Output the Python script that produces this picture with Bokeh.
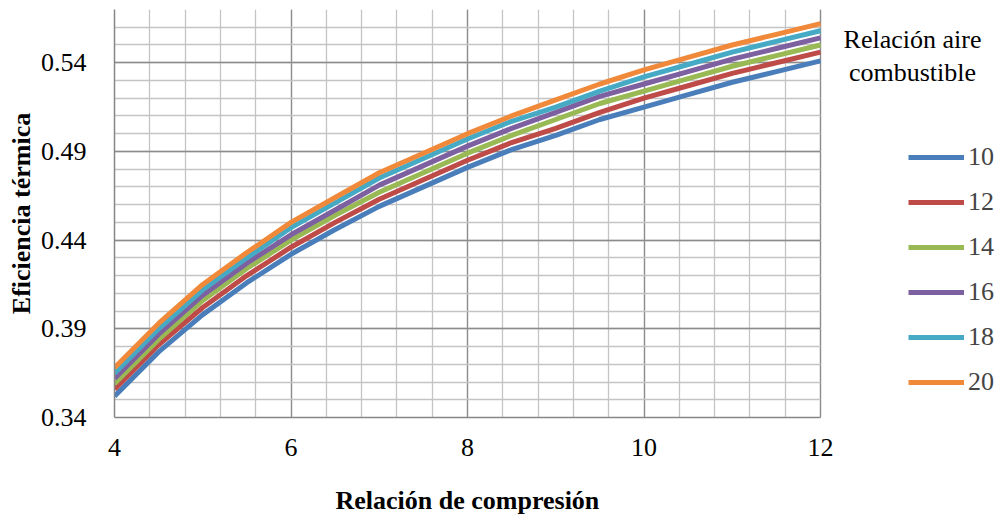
import numpy as np
from bokeh.plotting import figure
from bokeh.models import (Range1d, FixedTicker, NumeralTickFormatter, Legend, LegendItem, Label, Title)
from bokeh.embed import file_html
from bokeh.resources import INLINE

# Data
compression = [4, 4.5, 5, 5.5, 6, 6.5, 7, 7.5, 8, 8.5, 9, 9.5, 10, 10.5, 11, 11.5, 12]
afr_labels = ["10", "12", "14", "16", "18", "20"]
eff_10 = [0.352, 0.377, 0.398, 0.416, 0.432, 0.446, 0.459, 0.470, 0.481, 0.491, 0.499, 0.508, 0.515, 0.522, 0.529, 0.535, 0.541]
eff_12 = [0.356, 0.381, 0.402, 0.420, 0.436, 0.450, 0.463, 0.474, 0.485, 0.495, 0.503, 0.512, 0.520, 0.527, 0.534, 0.540, 0.546]
eff_14 = [0.359, 0.384, 0.406, 0.424, 0.440, 0.454, 0.467, 0.478, 0.489, 0.499, 0.508, 0.517, 0.524, 0.531, 0.538, 0.544, 0.550]
eff_16 = [0.362, 0.387, 0.409, 0.427, 0.443, 0.457, 0.471, 0.482, 0.493, 0.503, 0.512, 0.521, 0.528, 0.535, 0.542, 0.548, 0.554]
eff_18 = [0.365, 0.390, 0.412, 0.430, 0.447, 0.461, 0.475, 0.486, 0.497, 0.507, 0.515, 0.524, 0.532, 0.539, 0.546, 0.552, 0.558]
eff_20 = [0.368, 0.393, 0.415, 0.433, 0.450, 0.464, 0.478, 0.489, 0.500, 0.510, 0.519, 0.528, 0.536, 0.543, 0.550, 0.556, 0.562]
series = [eff_10, eff_12, eff_14, eff_16, eff_18, eff_20]
colors = ["#4A7EBB", "#BE4B48", "#98B954", "#7D60A0", "#46AAC5", "#F08A3A"]

x_major = [4, 6, 8, 10, 12]
y_major = [0.34, 0.39, 0.44, 0.49, 0.54]
X_MIN, X_MAX = 4, 12
Y_MIN, Y_MAX = 0.34, 0.57

FONT = "Liberation Serif"

W, H = 997, 518
LEFT, TOP, BOTTOM = 114, 9, 101
PLOT_W = 706  # pixel width of the x 4..12 area
x_end = X_MIN + (W - LEFT) / PLOT_W * (X_MAX - X_MIN)

p = figure(width=W, height=H, output_backend="svg", toolbar_location=None,
           x_range=Range1d(X_MIN, x_end), y_range=Range1d(Y_MIN, Y_MAX),
           min_border_left=LEFT, min_border_right=0, min_border_top=TOP, min_border_bottom=BOTTOM)
p.outline_line_color = None
p.background_fill_color = "white"

x_minor = list(np.round(np.arange(X_MIN, X_MAX + 0.001, 0.4), 2))
y_minor = list(np.round(np.arange(Y_MIN, Y_MAX + 0.0001, 0.01), 2))
xt = FixedTicker(ticks=x_major, minor_ticks=x_minor)
yt = FixedTicker(ticks=y_major, minor_ticks=y_minor)

p.xaxis.ticker = xt
p.yaxis.ticker = yt
p.xgrid.ticker = xt
p.ygrid.ticker = yt
p.xaxis.bounds = (X_MIN, X_MAX)
p.xgrid.bounds = (X_MIN, X_MAX)
try:
    p.ygrid.cross_bounds = (X_MIN, X_MAX)
    p.xgrid.cross_bounds = (Y_MIN, Y_MAX)
except Exception:
    pass
for g in (p.xgrid, p.ygrid):
    g.grid_line_color = "#8c8c8c"
    g.grid_line_width = 1.3
    g.minor_grid_line_color = "#c4c4c4"
    g.minor_grid_line_width = 1.3

p.yaxis.formatter = NumeralTickFormatter(format="0.00")
for ax in (p.xaxis, p.yaxis):
    ax.axis_line_color = "#868686"
    ax.axis_line_width = 1.5
    ax.major_tick_line_color = None
    ax.minor_tick_line_color = None
    ax.major_label_text_font = FONT
    ax.major_label_text_font_size = "26px"
    ax.major_label_text_color = "black"
    ax.axis_label_text_font = FONT
    ax.axis_label_text_font_size = "26px"
    ax.axis_label_text_font_style = "bold"
    ax.axis_label_text_color = "black"

p.yaxis.axis_label = "Eficiencia térmica"
p.xaxis.major_label_standoff = 15
p.yaxis.major_label_standoff = 22
p.yaxis.axis_label_standoff = 2

# x-axis title, centred under the 4..12 region
xlabel = Title(text="Relación de compresión", align="left", offset=221,
               vertical_align="top",
               text_font=FONT, text_font_size="26px", text_font_style="bold", text_color="black")
try:
    xlabel.padding = dict(top=27, bottom=0, left=0, right=0)
    xlabel.standoff = 0
except Exception:
    xlabel.standoff = 24
p.add_layout(xlabel, "below")

renderers = []
for vals, c in zip(series, colors):
    r = p.line(compression, vals, line_color=c, line_width=5, line_cap="butt", line_join="round")
    renderers.append(r)

legend = Legend(items=[LegendItem(label=l, renderers=[r]) for l, r in zip(afr_labels, renderers)],
                location=(908 - LEFT, 20), orientation="vertical",
                glyph_width=56, glyph_height=30, label_height=30, spacing=15,
                padding=0, margin=0, border_line_color=None, background_fill_alpha=0,
                label_text_font=FONT, label_text_font_size="26px", label_standoff=4,
                label_text_baseline="middle")
p.add_layout(legend)

p.add_layout(Label(x=912 - LEFT, y=378, x_units="screen", y_units="screen", text="Relación aire",
                   text_align="center", text_baseline="alphabetic",
                   text_font=FONT, text_font_size="26px", text_color="black"))
p.add_layout(Label(x=912 - LEFT, y=345, x_units="screen", y_units="screen", text="combustible",
                   text_align="center", text_baseline="alphabetic",
                   text_font=FONT, text_font_size="26px", text_color="black"))

open("out.html", "w").write(file_html(p, INLINE))
